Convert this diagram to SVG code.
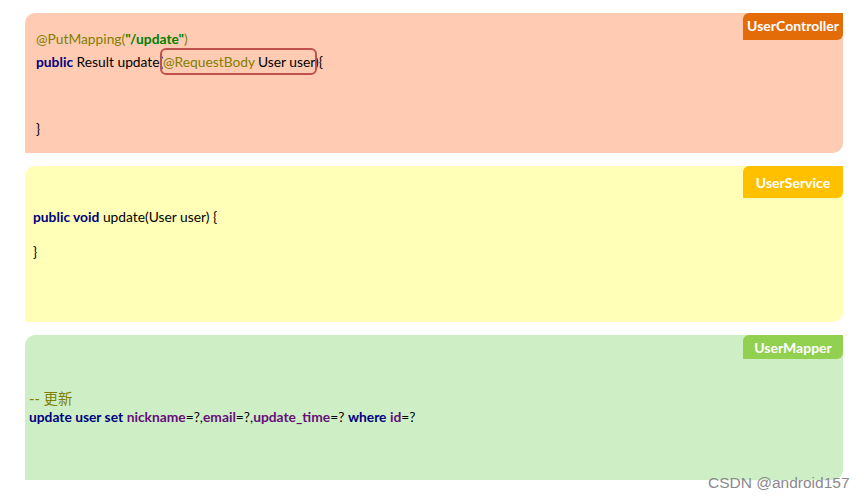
<svg xmlns="http://www.w3.org/2000/svg" width="865" height="498" viewBox="0 0 865 498">
<style>
text{font-family:Lato,"Liberation Sans","Noto Sans CJK SC",sans-serif;font-size:13.8px;fill:#000}
.tab{fill:#fff;font-weight:bold;font-size:14px;text-anchor:middle}
.kw{fill:#000080;font-weight:bold}
.ann{fill:#808000}
.str{fill:#008000;font-weight:bold}
.fld{fill:#660E7A;font-weight:bold}
</style>
<rect width="865" height="498" fill="#fff"/>
<g id="controller">
<path d="M35,13 H843 V143 A10,10 0 0 1 833,153 H25 V23 A10,10 0 0 1 35,13 Z" fill="#FFCBB3"/>
<path d="M749,13 H843 V34 A6,6 0 0 1 837,40 H743 V19 A6,6 0 0 1 749,13 Z" fill="#E36C09"/>
<text class="tab" x="793" y="31">UserController</text>
<text x="36" y="44"><tspan class="ann">@PutMapping(</tspan><tspan class="str">"/update"</tspan><tspan class="ann">)</tspan></text>
<text x="36" y="67"><tspan class="kw">public</tspan> Result update(<tspan class="ann" x="163">@RequestBody</tspan><tspan x="258">User user){</tspan></text>
<rect x="161" y="49" width="155" height="25" rx="5" fill="none" stroke="#C0504D" stroke-width="2"/>
<text x="36" y="134">}</text>
</g>
<g id="service">
<path d="M35,166 H843 V312 A10,10 0 0 1 833,322 H25 V176 A10,10 0 0 1 35,166 Z" fill="#FFFFB7"/>
<path d="M749,166 H843 V192 A6,6 0 0 1 837,198 H743 V172 A6,6 0 0 1 749,166 Z" fill="#FFC000"/>
<text class="tab" x="793" y="188">UserService</text>
<text x="33" y="222"><tspan class="kw">public void</tspan> update(User user) {</text>
<text x="33" y="257">}</text>
</g>
<g id="mapper">
<path d="M35,335 H843 V470 A10,10 0 0 1 833,480 H25 V345 A10,10 0 0 1 35,335 Z" fill="#CEEFC6"/>
<path d="M749,335 H843 V353 A6,6 0 0 1 837,359 H743 V341 A6,6 0 0 1 749,335 Z" fill="#92D050"/>
<text class="tab" x="793" y="353">UserMapper</text>
<text class="ann" x="29" y="404" style="font-size:14.5px">-- 更新</text>
<text x="29" y="422"><tspan class="kw">update user set</tspan> <tspan class="fld">nickname</tspan>=?,<tspan class="fld">email</tspan>=?,<tspan class="fld">update_time</tspan>=? <tspan class="kw">where</tspan> <tspan class="fld">id</tspan>=?</text>
</g>
<text x="708" y="488" style="font-family:'Liberation Sans',sans-serif;font-size:15.5px;fill:#8a8a8a">CSDN @android157</text>
</svg>
